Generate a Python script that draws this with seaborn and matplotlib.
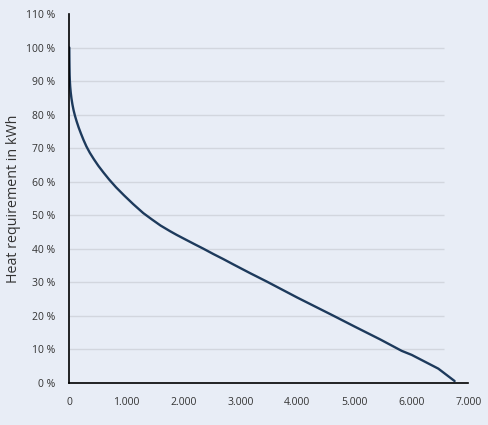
import matplotlib
matplotlib.use("Agg")
import matplotlib.pyplot as plt
import matplotlib.ticker as mticker
import seaborn as sns

# load duration curve
hours = [0, 1, 3, 6, 10, 16, 25, 38, 55, 75, 100, 130, 165, 205, 250, 300, 360,
         430, 510, 600, 700, 820, 960, 1120, 1298, 1450, 1600, 1768, 1884, 2030,
         2200, 2350, 2526, 2700, 2877, 3170, 3462, 4000, 4632, 5000, 5456, 5832,
         6007, 6474, 6760]
heat_pct = [100, 97.5, 94.5, 91.8, 90, 88.3, 86.6, 84.8, 83, 81.3, 79.6, 77.9,
            76.1, 74.3, 72.4, 70.5, 68.6, 66.7, 64.7, 62.7, 60.6, 58.3, 55.9,
            53.3, 50.6, 48.7, 46.9, 45.2, 44.1, 42.8, 41.3, 40, 38.4, 36.9, 35.3,
            32.7, 30.2, 25.4, 20, 16.8, 12.9, 9.5, 8.3, 4.2, 0.5]

x_ticks = [0, 1000, 2000, 3000, 4000, 5000, 6000, 7000]
y_ticks = [0, 10, 20, 30, 40, 50, 60, 70, 80, 90, 100, 110]
grid_levels = [10, 20, 30, 40, 50, 60, 70, 80, 90, 100]

bg = "#e8edf6"
sns.set_style("white")
plt.rcParams["font.family"] = ["Open Sans", "DejaVu Sans"]

fig = plt.figure(figsize=(4.88, 4.25), dpi=100, facecolor=bg)
ax = fig.add_axes([0.142, 0.0995, 0.8176, 0.8676], facecolor=bg)

ax.hlines(grid_levels, 0, 6580, color="#d2d6de", lw=1.0, zorder=1)

sns.lineplot(x=hours, y=heat_pct, ax=ax, color="#1d3a5c", lw=1.7, zorder=3)

ax.set_xlim(0, 7000)
ax.set_ylim(0, 110)
ax.set_xticks(x_ticks)
ax.set_yticks(y_ticks)
ax.xaxis.set_major_formatter(mticker.FuncFormatter(lambda v, p: f"{int(v):,}".replace(",", ".")))
ax.yaxis.set_major_formatter(mticker.FuncFormatter(lambda v, p: f"{int(v)} %"))

for s in ["top", "right"]:
    ax.spines[s].set_visible(False)
for s in ["left", "bottom"]:
    ax.spines[s].set_color("black")
    ax.spines[s].set_linewidth(1.2)
    ax.spines[s].set_zorder(4)

ax.tick_params(axis="y", direction="out", length=8, width=1.2, color="black",
               labelsize=7.5, labelcolor="#333333", pad=2)
ax.tick_params(axis="x", direction="inout", length=12, width=1.2, color="black",
               labelsize=7.5, labelcolor="#333333", pad=4)

ax.set_ylabel("Heat requirement in kWh", fontsize=10.3, color="#333333")
ax.yaxis.set_label_coords(-0.121, 0.5)
ax.set_xlabel("")

fig.savefig("out.png", dpi=100, facecolor=bg)
